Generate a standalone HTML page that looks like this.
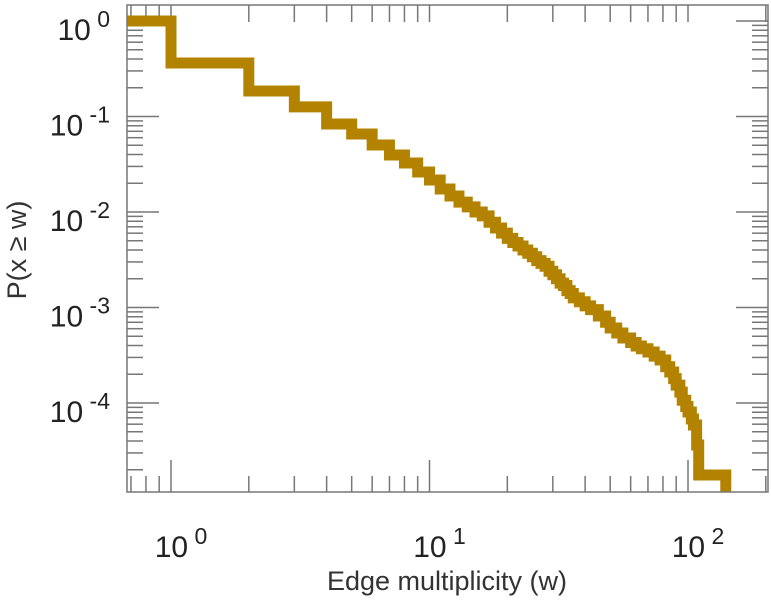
<!DOCTYPE html>
<html><head><meta charset="utf-8"><style>
html,body{margin:0;padding:0;background:#fff;}
svg{display:block;font-family:"Liberation Sans",sans-serif;}
</style></head><body>
<svg id="chart" width="771" height="600" viewBox="0 0 771 600">
<defs><clipPath id="clip"><rect x="127" y="5" width="641" height="487"/></clipPath></defs>
<g id="ticks"></g>
<g clip-path="url(#clip)"><path id="series" fill="none" stroke="#b38300" stroke-width="11" stroke-linejoin="miter" stroke-linecap="butt"/></g>
<rect x="127" y="5" width="641" height="487" fill="none" stroke="#777" stroke-width="1.5"/>
<g id="labels"></g>
<text x="447" y="590" text-anchor="middle" font-size="27" fill="#333">Edge multiplicity (w)</text>
<text transform="translate(26,250) rotate(-90)" text-anchor="middle" font-size="27" fill="#333">P(x ≥ w)</text>
</svg>
<script>
const wSteps = [0.6,1,2,3,4,5,6,7,8,9,10,11,12,13,14,15,16,17,18,19,20,21,22,23,24,25,26,27,28,29,30,31,32,33,34,35,36,38,40,42,45,48,50,53,56,60,63,66,70,74,78,82,85,88,90,93,95,98,100,103,105,108,110];
const pSteps = [1,0.363,0.185,0.126,0.0835,0.0656,0.0503,0.0395,0.0326,0.0262,0.0216,0.0174,0.0147,0.0127,0.0113,0.0100,0.0091,0.0078,0.0068,0.0060,0.0053,0.0048,0.0044,0.0040,0.0037,0.0034,0.0031,0.0029,0.0027,0.0024,0.0022,0.0020,0.0018,0.0017,0.0015,0.0014,0.00126,0.00115,0.00104,0.00095,0.000815,0.00070,0.00061,0.00054,0.00048,0.00043,0.000395,0.00037,0.000342,0.00031,0.000282,0.00024,0.000211,0.00018,0.000154,0.00013,0.000107,0.000092,0.0000805,0.000068,0.0000589,0.0000363,0.0000176];
const wEnd = 140;
const xTickExps = [0,1,2];
const yTickExps = [0,-1,-2,-3,-4];

const X0=171, XD=258.5, Y0=21, YD=95.5, L=127, R=768, T=5, B=492;
const sx = w => X0 + XD*Math.log10(w);
const sy = p => Y0 - YD*Math.log10(p);
const NS='http://www.w3.org/2000/svg';

let d = 'M' + sx(wSteps[0]) + ' ' + sy(pSteps[0]);
for (let i=0;i<wSteps.length;i++){
  const next = i+1<wSteps.length ? wSteps[i+1] : wEnd;
  d += ' L' + sx(next) + ' ' + sy(pSteps[i]);
  if (i+1<wSteps.length) d += ' L' + sx(next) + ' ' + sy(pSteps[i+1]);
}
d += ' L' + sx(wEnd) + ' ' + (B+10);
document.getElementById('series').setAttribute('d', d);

const tg = document.getElementById('ticks');
function line(x1,y1,x2,y2){
  const l=document.createElementNS(NS,'line');
  l.setAttribute('x1',x1);l.setAttribute('y1',y1);l.setAttribute('x2',x2);l.setAttribute('y2',y2);
  l.setAttribute('stroke','#777');l.setAttribute('stroke-width','1.5');
  
  
  tg.appendChild(l);
}
for (let e=-1;e<=2;e++){
  for (let k=1;k<=9;k++){
    const x = sx(k*Math.pow(10,e));
    if (x<L+1||x>R-1) continue;
    const len = k===1?32:16;
    line(x,B,x,B-len); line(x,T,x,T+17);
  }
}
for (let e=-5;e<=0;e++){
  for (let k=1;k<=9;k++){
    const y = sy(k*Math.pow(10,e));
    if (y<T+1||y>B-1) continue;
    const len = k===1?32:16;
    line(L,y,L+len,y); line(R,y,R-len,y);
  }
}
const lg = document.getElementById('labels');
function label(x,y,exp,anchor,name){
  const t=document.createElementNS(NS,'text');
  t.setAttribute('x',x);t.setAttribute('y',y);t.setAttribute('text-anchor',anchor);
  t.setAttribute('font-size','30');t.setAttribute('fill','#222');
  
  
  const a=document.createElementNS(NS,'tspan');a.textContent='10';
  const b=document.createElementNS(NS,'tspan');b.textContent=' '+exp;
  b.setAttribute('font-size','23');b.setAttribute('dy','-13');
  t.appendChild(a);t.appendChild(b);lg.appendChild(t);
}
xTickExps.forEach(e=>label(sx(Math.pow(10,e))+10,557,String(e),'middle','x-tick-label'));
yTickExps.forEach(e=>label(110,sy(Math.pow(10,e))+19,e<0?'-'+(-e):String(e),'end','y-tick-label'));
</script>
</body></html>
